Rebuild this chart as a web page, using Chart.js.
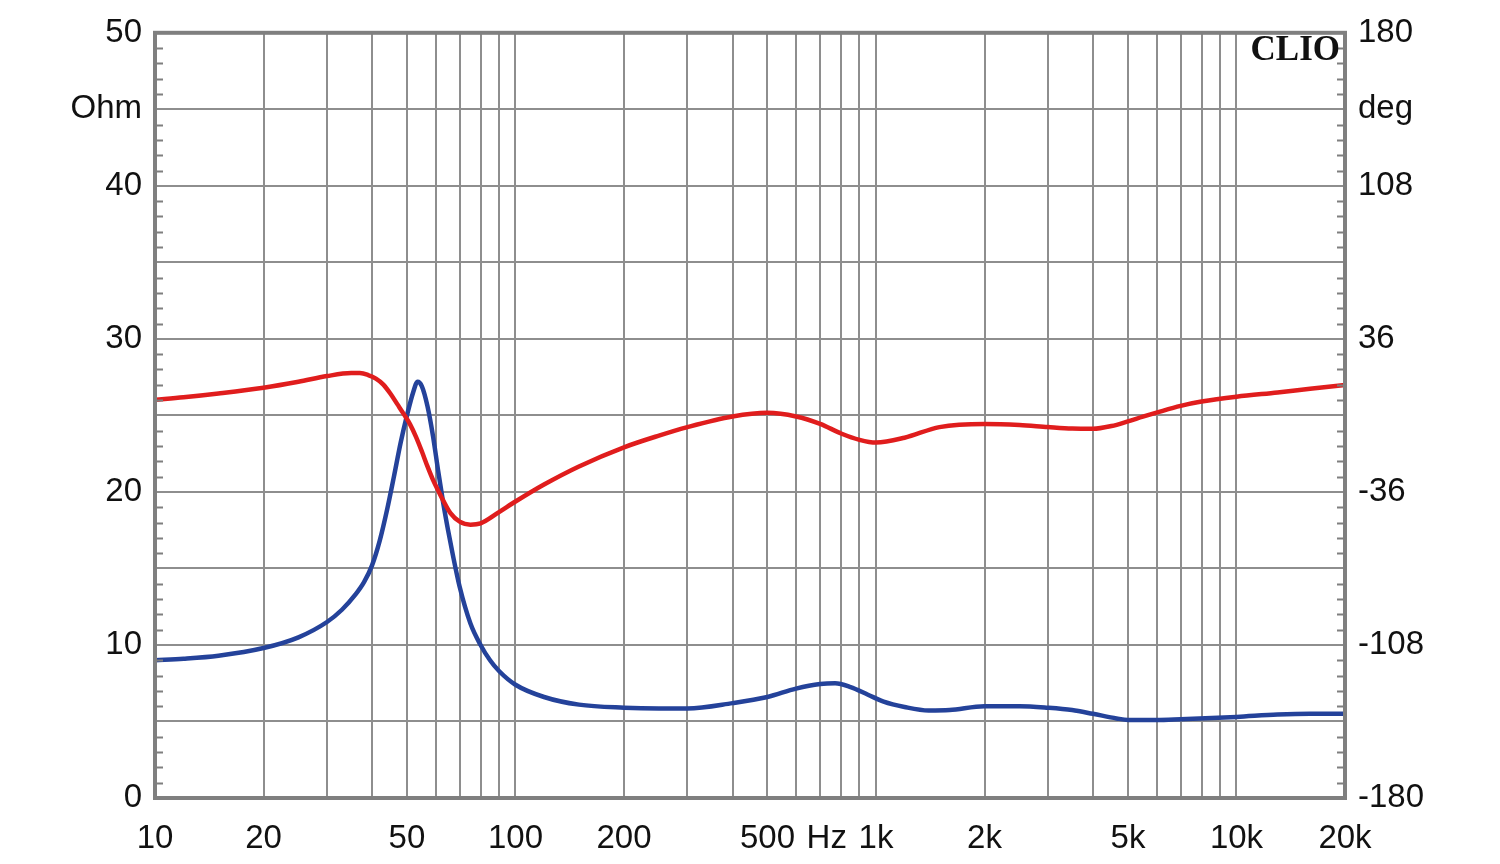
<!DOCTYPE html>
<html>
<head>
<meta charset="utf-8">
<script src="https://cdn.jsdelivr.net/npm/chart.js@4/dist/chart.umd.min.js"></script>
<style>
  html, body { margin: 0; padding: 0; background: #fff; }
  canvas { display: block; }
</style>
</head>
<body>
<canvas id="chart" width="1500" height="864"></canvas>
<script>
// impedance / phase sweep, CLIO style

// ── Data ──
const zFreqs = [10, 12, 15, 20, 25, 30, 33, 36, 38, 40, 42, 44, 46, 48, 50, 52, 53.5, 55, 57, 59, 61, 63, 65, 67, 70, 75, 80, 85, 90, 100,
  120, 150, 200, 250, 300, 400, 500, 600, 700, 770, 850, 950, 1050, 1200, 1400, 1600, 2000, 2500, 3000, 3500, 4000,
  4650, 5000, 6000, 7000, 10000, 13000, 16000, 20000];

const impedance = [9.0, 9.1, 9.3, 9.8, 10.5, 11.5, 12.3, 13.3, 14.1, 15.2, 16.8, 18.8, 21.0, 23.2, 25.0, 26.5, 27.2, 26.9, 25.6, 23.7, 21.4, 19.3, 17.5, 15.9, 13.8, 11.4, 10.0, 9.0, 8.3, 7.4,
  6.6, 6.1, 5.9, 5.85, 5.85, 6.2, 6.6, 7.15, 7.45, 7.5, 7.25, 6.75, 6.3, 5.95, 5.72, 5.75, 6.0, 6.0, 5.9, 5.75, 5.5,
  5.2, 5.1, 5.1, 5.15, 5.3, 5.45, 5.5, 5.5];

const pFreqs = [10, 12, 15, 20, 25, 30, 35, 37, 39, 41, 43, 45, 47, 49, 51, 53, 55, 57, 59, 61, 63, 66, 70, 75, 80, 90, 100,
  120, 150, 200, 250, 300, 400, 500, 600, 700, 800, 900, 1000, 1200, 1500, 2000, 2500, 3000, 3500, 4000,
  4500, 5000, 5500, 6000, 7000, 8000, 10000, 13000, 16000, 20000];

const phase = [7.3, 8.5, 10.3, 13.0, 15.8, 18.5, 19.9, 19.9, 19.0, 17.3, 14.5, 10.2, 5.3, 0.6, -4.2, -10.2, -17.0, -24.0, -30.2, -35.3, -40.0, -46.0, -50.0, -51.4, -50.8, -45.5, -40.5,
  -32.5, -24, -15, -9.5, -5.5, -0.5, 1.2, -0.5, -4, -8.5, -11.5, -12.8, -10.5, -5.5, -4, -4.5, -5.5, -6.2, -6.3,
  -5.0, -2.8, -0.6, 1.3, 4.5, 6.5, 8.8, 10.8, 12.5, 14.3];

// ── Axis labels ──
const xLabelValues = [10, 20, 50, 100, 200, 500, 730, 1000, 2000, 5000, 10000, 20000];
const xLabelTexts  = ['10', '20', '50', '100', '200', '500', 'Hz', '1k', '2k', '5k', '10k', '20k'];
const ohmTicks  = [0, 5, 10, 15, 20, 25, 30, 35, 40, 45, 50];
const ohmLabels = ['0', '', '10', '', '20', '', '30', '', '40', 'Ohm', '50'];
const degTicks  = [-180, -144, -108, -72, -36, 0, 36, 72, 108, 144, 180];
const degLabels = ['-180', '', '-108', '', '-36', '', '36', '', '108', 'deg', '180'];

const GRID  = '#8e8e8e';
const FRAME = '#7f7f7f';
const RED   = '#e01d1d';
const BLUE  = '#24429a';
const FONT  = "'Liberation Sans', Arial, sans-serif";

// decade grid lines 10, 20 ... 90, 100, 200 ... 20k
const gridFreqs = [];
for (let d = 10; d <= 10000; d *= 10) {
  for (let m = 1; m <= 9; m++) {
    if (d * m <= 20000) gridFreqs.push(d * m);
  }
}

const allXTicks = Array.from(new Set(gridFreqs.concat(xLabelValues))).sort((a, b) => a - b);

const framePlugin = {
  id: 'frame',
  afterDraw(chart) {
    const { ctx, chartArea: a } = chart;
    const y = chart.scales.y;
    ctx.save();
    // minor ticks every 1 Ohm on both sides
    ctx.strokeStyle = FRAME;
    ctx.lineWidth = 2;
    for (let v = 0; v <= 50; v++) {
      if (v % 5 === 0) continue;
      const py = Math.round(y.getPixelForValue(v)) + 0.5;
      ctx.beginPath();
      ctx.moveTo(a.left, py); ctx.lineTo(a.left + 8, py);
      ctx.moveTo(a.right - 8, py); ctx.lineTo(a.right, py);
      ctx.stroke();
    }
    // frame
    ctx.lineWidth = 4;
    ctx.strokeRect(a.left, a.top, a.right - a.left, a.bottom - a.top);
    // logo
    ctx.fillStyle = '#111';
    ctx.font = "bold 35px 'Liberation Serif', 'DejaVu Serif', serif";
    ctx.textAlign = 'right';
    ctx.textBaseline = 'alphabetic';
    ctx.fillText('CLIO', a.right - 5, 60);
    ctx.restore();
  }
};

new Chart(document.getElementById('chart'), {
  type: 'line',
  data: {
    datasets: [
      {
        label: 'Phase',
        data: pFreqs.map((f, i) => ({ x: f, y: phase[i] })),
        yAxisID: 'y2',
        borderColor: RED,
        borderWidth: 4.5,
        pointRadius: 0,
        cubicInterpolationMode: 'monotone'
      },
      {
        label: 'Impedance',
        data: zFreqs.map((f, i) => ({ x: f, y: impedance[i] })),
        yAxisID: 'y',
        borderColor: BLUE,
        borderWidth: 4.5,
        pointRadius: 0,
        cubicInterpolationMode: 'monotone'
      }
    ]
  },
  plugins: [framePlugin],
  options: {
    responsive: false,
    animation: false,
    layout: { padding: { top: 31, left: 0, right: 0, bottom: 0 } },
    plugins: { legend: { display: false }, tooltip: { enabled: false } },
    scales: {
      x: {
        type: 'logarithmic',
        min: 10,
        max: 20000,
        afterBuildTicks: s => { s.ticks = allXTicks.map(v => ({ value: v })); },
        afterFit: s => { s.height = 66; },
        ticks: {
          autoSkip: false,
          maxRotation: 0,
          padding: 21,
          color: '#111',
          font: { family: FONT, size: 33 },
          callback: v => {
            const i = xLabelValues.indexOf(v);
            return i >= 0 ? xLabelTexts[i] : '';
          }
        },
        grid: {
          drawTicks: false,
          lineWidth: 2,
          color: c => (c.tick && c.tick.value === 730 ? 'rgba(0,0,0,0)' : GRID)
        },
        border: { display: false }
      },
      y: {
        position: 'left',
        min: 0,
        max: 50,
        afterBuildTicks: s => { s.ticks = ohmTicks.map(v => ({ value: v })); },
        afterFit: s => { s.width = 155; },
        ticks: {
          padding: 13,
          color: '#111',
          font: { family: FONT, size: 33 },
          callback: v => ohmLabels[ohmTicks.indexOf(v)]
        },
        grid: { drawTicks: false, lineWidth: 2, color: GRID },
        border: { display: false }
      },
      y2: {
        position: 'right',
        min: -180,
        max: 180,
        afterBuildTicks: s => { s.ticks = degTicks.map(v => ({ value: v })); },
        afterFit: s => { s.width = 155; },
        ticks: {
          padding: 13,
          color: '#111',
          font: { family: FONT, size: 33 },
          callback: v => degLabels[degTicks.indexOf(v)]
        },
        grid: { drawOnChartArea: false, drawTicks: false },
        border: { display: false }
      }
    }
  }
});
</script>
</body>
</html>
